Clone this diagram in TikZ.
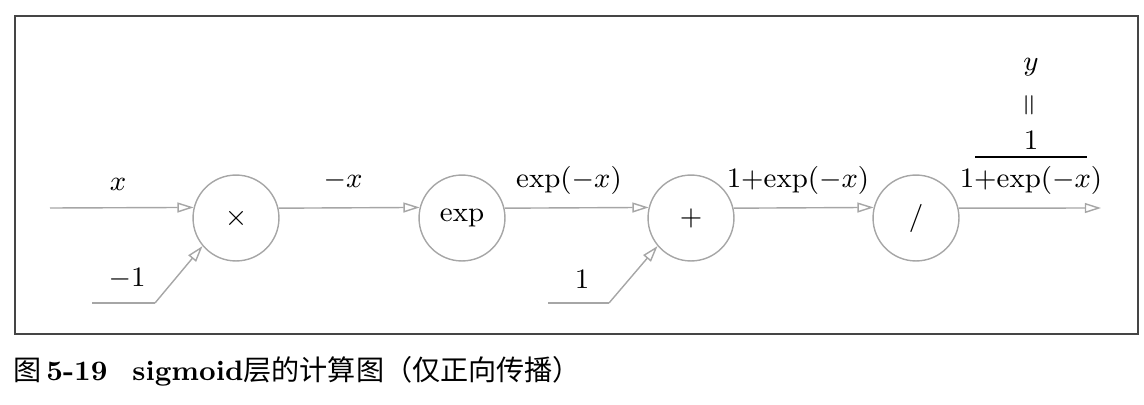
\documentclass[tikz,border=0pt]{standalone}
\usepackage{fontspec}
\newfontfamily\cjk{Noto Sans CJK SC}
\usetikzlibrary{arrows.meta}
\definecolor{linegray}{HTML}{A6A6A6}
\definecolor{framegray}{HTML}{454545}
\tikzset{
  op/.style={circle, draw=linegray, line width=0.45pt, minimum size=27.5pt, inner sep=0pt, font=\fontsize{9}{11}\selectfont},
  conn/.style={draw=linegray, line width=0.45pt, -{Triangle[open, length=5.2pt, width=3.2pt]}},
  plain/.style={draw=linegray, line width=0.45pt},
  lbl/.style={inner sep=0pt, font=\fontsize{9}{11}\selectfont},
}
\begin{document}
\begin{tikzpicture}[x=0.32pt, y=-0.32pt]
\useasboundingbox (0,0) rectangle (1144,404);
\draw[framegray, line width=0.5pt] (15,16) rectangle (1138,334);
% operator nodes
\node[op] (mul) at (236,218) {$\times$};
\node[op] (ex) at (462,218) {exp};
\node[op] (add) at (691,218) {$+$};
\node[op] (dv) at (916,218) {/};
% free ends
\coordinate (xin) at (50,208);
\coordinate (yout) at (1101,208);
\coordinate (m1a) at (92,303);
\coordinate (m1b) at (155,303);
\coordinate (p1a) at (548,303);
\coordinate (p1b) at (609,303);
% connectors
\draw[conn] (xin) -- (mul.166.6);
\draw[conn] (mul.13.4) -- (ex.166.6);
\draw[conn] (ex.13.4) -- (add.166.6);
\draw[conn] (add.13.4) -- (dv.166.6);
\draw[conn] (dv.13.4) -- (yout);
\draw[plain] (m1a) -- (m1b);
\draw[conn] (m1b) -- (mul.220);
\draw[plain] (p1a) -- (p1b);
\draw[conn] (p1b) -- (add.220);
% labels
\node[lbl] (lx) at (118,184) {$x$};
\node[lbl] (lmx) at (343,180) {$-x$};
\node[lbl] (lexp) at (569,180) {exp($-x$)};
\node[lbl] (lsum) at (798,180) {1+exp($-x$)};
\node[lbl] (lm1) at (127,279) {$-1$};
\node[lbl] (l1) at (582,279) {1};
% output fraction
\node[lbl] (ly) at (1031,67) {$y$};
\node[lbl, rotate=90] (leq) at (1031,105) {$=$};
\node[lbl] (lnum) at (1031,140) {1};
\coordinate (fa) at (975,157);
\coordinate (fb) at (1087,157);
\draw[black, line width=0.8pt] (fa) -- (fb);
\node[lbl] (lden) at (1031,180) {1+exp($-x$)};
% caption
\node[anchor=west, inner sep=0pt, font=\fontsize{9}{11}\selectfont] (cap) at (13,371)
  {{\cjk 图}\,\textbf{5-19}\hspace{8pt}\textbf{sigmoid}{\cjk 层的计算图（仅正向传播）}};
\end{tikzpicture}
\end{document}
